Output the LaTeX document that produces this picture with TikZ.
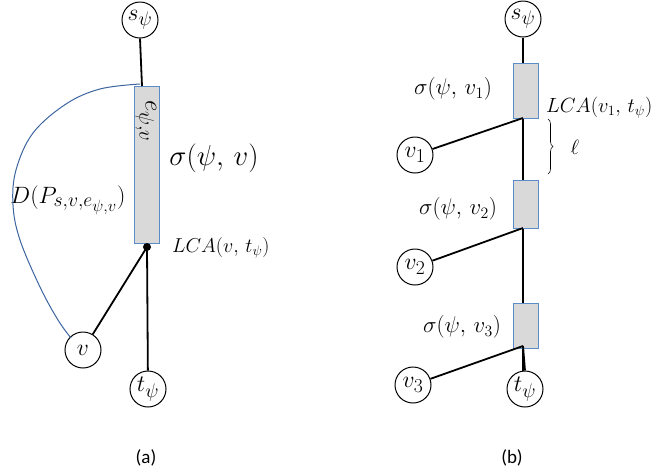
\documentclass[tikz,border=0pt]{standalone}
\usepackage{fontspec}
\usepackage{graphicx}
\newfontfamily\capfont{Carlito}
\usetikzlibrary{decorations.pathreplacing}
\definecolor{boxfill}{RGB}{217,217,217}
\definecolor{boxline}{RGB}{91,140,200}
\definecolor{curveblue}{RGB}{60,100,160}
\begin{document}
\begin{tikzpicture}[x=1pt,y=-1pt,
  vtx/.style={draw,circle,line width=1pt,minimum size=36pt,inner sep=0pt,fill=white,font=\fontsize{24.88}{30}\selectfont},
  edgebox/.style={draw=boxline,fill=boxfill,line width=1pt,minimum width=25pt,inner sep=0pt},
  link/.style={line width=1.8pt},
  lbl/.style={font=\fontsize{20.74}{25}\selectfont,inner sep=0pt},
  big/.style={font=\fontsize{24.88}{30}\selectfont,inner sep=0pt},
  captxt/.style={font=\capfont\fontsize{19}{22}\selectfont}]
\useasboundingbox (0,0) rectangle (657,475);
% ---------- (a) ----------
\node[vtx] (sa) at (140,20) {\scalebox{0.95}{$s_\psi$}};
\node[edgebox,minimum height=157pt] (ra) at (146.5,164.5) {};
\draw[link] (sa.south) -- (142,86);
\coordinate (la) at (147,247);
\node[vtx] (va) at (83,350) {\scalebox{0.95}{$v$}};
\node[vtx] (ta) at (148,389) {\scalebox{0.95}{$t_\psi$}};
\draw[link] (la) -- (va);
\draw[link] (la) -- (ta);
\fill (la) circle (4pt);
\node[rotate=-90,big] (ea) at (146,121) {\scalebox{1.0}{$e_{\psi,v}$}};
\node[big] (siga) at (214,158) {\scalebox{1.16}{$\sigma(\psi,\,v)$}};
\node[big] (da) at (68,200) {\scalebox{0.95}{$D(P_{s,v,e_{\psi,v}})$}};
\node[lbl,anchor=west] (lcaa) at (172,248) {\scalebox{0.97}{$LCA(v,\,t_\psi)$}};
\draw[curveblue,line width=1pt] plot[smooth,tension=0.6] coordinates {(140,84) (100,89) (66,104) (33,133) (16,170) (13,205) (20,240) (40,287) (58,320) (71,338)};
\node[captxt] (capa) at (146,458) {(a)};
% ---------- (b) ----------
\node[vtx] (sb) at (523,19) {\scalebox{0.95}{$s_\psi$}};
\node[vtx] (tb) at (525,389) {\scalebox{0.95}{$t_\psi$}};
\draw[link] (sb.south) -- (523,371);
\node[edgebox,minimum height=55pt] (r1) at (525.5,90.5) {};
\node[edgebox,minimum height=48pt] (r2) at (525.5,204) {};
\node[edgebox,minimum height=45pt] (r3) at (525.5,325.5) {};
\coordinate (j1) at (523,118);
\coordinate (j2) at (523,228);
\coordinate (j3) at (523,346);
\draw[link] (j3) -- (tb.north);
\node[vtx] (v1) at (415,155) {\scalebox{0.95}{$v_1$}};
\node[vtx] (v2) at (415,267) {\scalebox{0.95}{$v_2$}};
\node[vtx] (v3) at (413,385) {\scalebox{0.95}{$v_3$}};
\draw[link] (j1) -- (v1);
\draw[link] (j2) -- (v2);
\draw[link] (j3) -- (v3);
\node[lbl] (s1) at (453,89) {\scalebox{1.1}{$\sigma(\psi,\,v_1)$}};
\node[lbl] (s2) at (458,209) {\scalebox{1.1}{$\sigma(\psi,\,v_2)$}};
\node[lbl] (s3) at (462,327) {\scalebox{1.1}{$\sigma(\psi,\,v_3)$}};
\node[lbl,anchor=west] (lcab) at (546,108) {\scalebox{0.99}{$LCA(v_1,\,t_\psi)$}};
\coordinate (b1) at (548,119);
\coordinate (b2) at (548,174);
\draw[line width=0.6pt,decorate,decoration={brace,amplitude=5pt}] (b1) -- (b2);
\node[lbl] (ell) at (575,147) {$\ell$};
\node[captxt] (capb) at (512,458) {(b)};
\end{tikzpicture}
\end{document}
